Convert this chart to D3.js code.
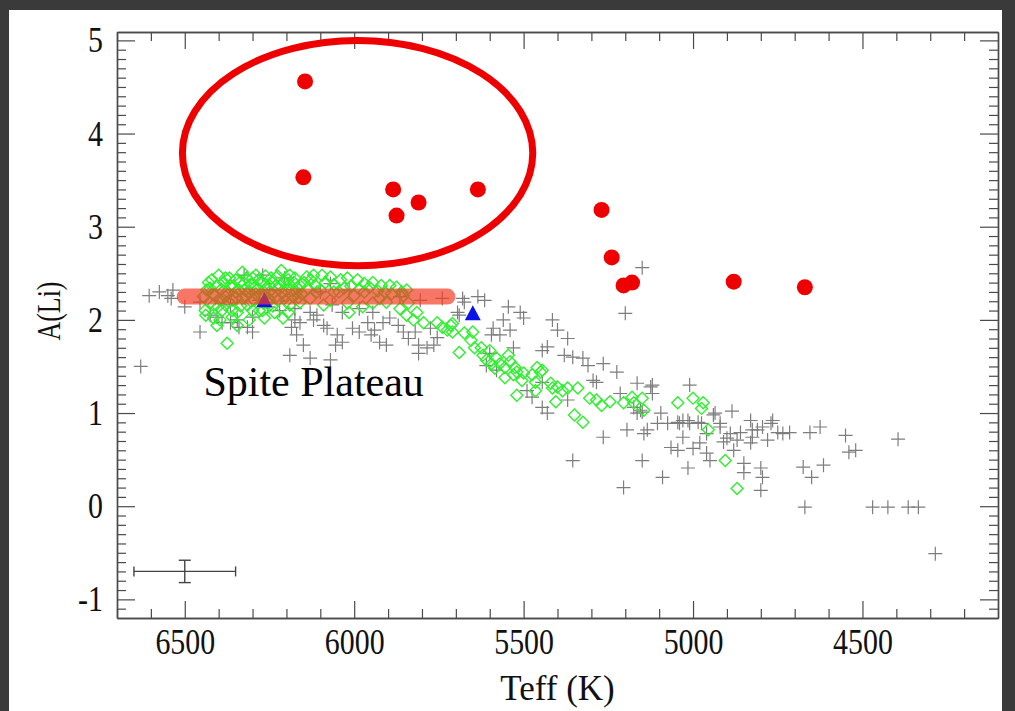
<!DOCTYPE html>
<html>
<head>
<meta charset="utf-8">
<script src="https://cdn.jsdelivr.net/npm/d3@7"></script>
<style>
  html, body { margin: 0; padding: 0; background: #3a3a3a; }
  svg { display: block; }
  text { font-family: "Liberation Serif", "Times New Roman", serif; }
</style>
</head>
<body>
<div id="chart"></div>
<script>
// giants / field stars (gray crosses): [Teff, A(Li)]
const crossStars = [
  [6630,1.50],[6605,2.26],[6575,2.30],[6550,2.26],[6540,2.23],[6535,2.32],[6500,2.14],[6455,1.87],
  [6270,2.48],[6300,1.87],[6190,1.62],[6185,1.92],[6175,2.00],[6405,2.03],[6390,1.97],[6365,1.97],
  [6345,2.00],[6340,1.92],[6315,1.92],[6425,2.05],[6300,2.03],[6255,2.14],[6160,1.97],[6120,2.00],
  [6170,1.84],[6090,1.94],[6080,1.91],[6050,1.84],[6035,1.76],[6055,1.73],[6150,1.73],[6130,1.59],
  [6070,1.57],[6005,1.91],[5985,1.87],[5960,1.97],[5940,1.89],[5915,1.97],[5895,2.02],[5905,1.73],
  [5925,1.76],[5950,1.84],[5870,1.94],[5855,1.87],[5840,1.80],[5820,1.87],[5810,1.73],[5810,1.64],
  [5765,1.73],[5785,1.70],[5755,1.81],[5775,1.91],[5740,2.23],[5680,2.23],[5695,2.08],[6065,2.16],
  [6035,2.08],[5985,2.12],[5945,2.08],[6175,2.12],[6130,2.08],[6110,2.05],[6325,2.48],[6205,2.45],
  [6070,2.39],[6250,2.32],[6100,2.30],[6015,2.32],[5865,2.25],[5805,2.21],[6455,2.19],[6365,2.16],
  [6220,2.10],[6280,2.21],[5690,2.05],[5675,2.19],[5635,2.25],[5615,2.21],[5545,2.14],[5510,2.08],
  [5500,2.02],[5560,2.00],[5590,1.91],[5540,1.89],[5570,1.84],[5415,2.00],[5400,1.89],[5370,1.80],
  [5430,1.71],[5445,1.67],[5530,1.70],[5595,1.84],[5600,1.64],[5580,1.46],[5200,2.07],[5150,2.56],
  [5380,1.62],[5355,1.60],[5325,1.59],[5310,1.51],[5265,1.53],[5225,1.44],[5285,1.33],[5295,1.35],
  [5165,1.32],[5125,1.28],[5010,1.30],[5445,1.33],[5430,1.00],[5445,1.06],[5490,1.24],[5475,1.17],
  [5215,1.21],[5195,0.82],[5265,0.74],[5145,0.78],[5370,1.14],[5155,1.03],[5355,0.49],[5150,0.49],
  [5205,0.20],[5610,1.51],[5095,1.00],[5075,0.89],[5065,0.63],[5045,0.60],[5030,0.92],[5010,0.89],
  [4985,0.90],[4940,0.98],[4920,0.89],[4885,1.02],[4860,0.79],[4830,0.92],[4825,0.74],[4810,0.82],
  [4770,0.89],[4750,0.79],[4735,0.78],[4715,0.79],[4655,0.79],[4625,0.85],[4550,0.76],[4540,0.58],
  [5090,0.31],[5015,0.41],[4950,0.49],[4960,0.57],[4850,0.46],[4850,0.36],[4800,0.41],[4795,0.31],
  [4800,0.17],[4675,0.42],[4650,0.31],[4615,0.44],[4880,0.60],[4910,0.69],[4870,0.71],[4980,0.68],
  [4830,0.68],[4780,0.71],[5045,0.90],[5030,0.74],[4395,0.72],[4285,-0.51],[4470,-0.01],[4425,-0.01],
  [4365,-0.01],[4335,-0.01],[4670,-0.01],[4520,0.60],[5120,1.30],[5135,0.82],[4765,0.92],[5000,0.62],
  [4900,0.73],[4935,1.00],[4975,0.89],[5015,0.92],[5040,0.89],[5105,0.89],[5165,1.00],[5175,1.06],
  [5150,1.01],[5120,1.21],[4825,0.82],[4890,0.78],[4795,0.85],[4920,0.85],[4960,0.78]
];

// dwarfs (green open diamonds): [Teff, A(Li)]
const diamondStars = [
  [6435,2.32],[6425,2.18],[6420,2.43],[6410,2.26],[6405,2.37],[6395,2.21],[6390,2.10],[6380,2.45],
  [6375,2.30],[6365,2.37],[6360,2.21],[6350,2.43],[6345,2.08],[6340,2.32],[6330,2.23],[6325,2.39],
  [6315,2.16],[6310,2.30],[6300,2.45],[6295,2.21],[6285,2.34],[6280,2.10],[6270,2.40],[6265,2.26],
  [6255,2.19],[6250,2.37],[6245,2.45],[6235,2.30],[6225,2.21],[6220,2.37],[6215,2.53],[6210,2.02],
  [6205,2.26],[6195,2.43],[6190,2.16],[6185,2.32],[6175,2.45],[6165,2.24],[6160,2.37],[6405,1.94],
  [6345,1.94],[6375,1.75],[6415,2.02],[6310,2.00],[6265,2.02],[6235,2.08],[6330,2.51],[6290,2.48],
  [6380,2.16],[6440,2.10],[6160,2.19],[6190,2.48],[6425,2.34],[6415,2.16],[6380,2.25],[6350,2.30],
  [6320,2.25],[6290,2.28],[6260,2.34],[6230,2.37],[6200,2.32],[6170,2.30],[6360,2.10],[6250,2.21],
  [6400,2.48],[6140,2.46],[6120,2.48],[6095,2.48],[6070,2.46],[6040,2.43],[6020,2.45],[5990,2.43],
  [5970,2.39],[5945,2.40],[5920,2.37],[5895,2.37],[5875,2.35],[5845,2.32],[5855,2.26],[5840,2.18],
  [5905,2.19],[5945,2.18],[6020,2.18],[6015,2.08],[5845,2.05],[5825,2.00],[5795,1.97],[5755,1.97],
  [5740,1.92],[5715,1.94],[5710,1.87],[5725,1.89],[5690,1.65],[5865,2.12],[5815,2.08],[5925,2.23],
  [5975,2.14],[6090,2.16],[6130,2.23],[6100,2.32],[6060,2.30],[6000,2.26],[6070,2.21],[6115,2.37],
  [6030,2.34],[5970,2.30],[5910,2.30],[5710,1.96],[5675,1.86],[5650,1.87],[5645,1.70],[5625,1.70],
  [5620,1.62],[5600,1.67],[5610,1.57],[5595,1.53],[5580,1.59],[5570,1.53],[5585,1.48],[5555,1.49],
  [5545,1.62],[5540,1.55],[5525,1.49],[5520,1.44],[5530,1.41],[5500,1.43],[5505,1.35],[5555,1.38],
  [5475,1.41],[5460,1.49],[5450,1.44],[5465,1.33],[5445,1.46],[5420,1.32],[5400,1.28],[5385,1.24],
  [5370,1.27],[5340,1.27],[5415,1.27],[5520,1.19],[5465,1.24],[5405,1.12],[5305,1.16],[5285,1.14],
  [5270,1.08],[5245,1.12],[5350,0.98],[5325,0.90],[5205,1.11],[5180,1.17],[5150,1.16],[5175,1.11],
  [5145,1.03],[5045,1.11],[5000,1.16],[4970,1.11],[4975,1.05],[4955,0.82],[4905,0.49],[4870,0.19],
  [5655,1.78],
  [6430,2.40],[6418,2.28],[6402,2.14],[6392,2.33],[6385,2.40],[6372,2.20],[6368,2.45],[6355,2.36],
  [6348,2.24],[6338,2.40],[6335,2.15],[6322,2.32],[6318,2.45],[6306,2.38],[6304,2.20],[6296,2.34],
  [6282,2.43],[6276,2.27],[6268,2.18],[6262,2.47],[6252,2.29],[6240,2.40],[6232,2.24],[6226,2.47],
  [6214,2.30],[6208,2.40],[6200,2.20],[6192,2.38],[6182,2.26],[6178,2.40],[6168,2.34],[6155,2.28],
  [6148,2.40],[6138,2.34],[6128,2.43],[6110,2.30],[6085,2.40],[6060,2.38],[6045,2.30],[6010,2.36],
  [5985,2.33],[5955,2.35],[5930,2.31],[5890,2.28],[5860,2.30],[6445,2.25],[6438,2.05],[6396,2.00],
  [6360,2.03],[6300,2.10],[6270,2.10],[6240,2.15],[6195,2.08]
];

// Li-rich stars (red filled circles)
const liRich = [
  [6145,4.56],[6150,3.53],[5885,3.40],[5875,3.12],[5810,3.26],[5635,3.40],
  [5270,3.18],[5240,2.67],[5205,2.37],[5180,2.40],[4880,2.41],[4670,2.35]
];

// blue triangles
const triangles = [[6265,2.20],[5650,2.06]];

// annotations
const plateauLine = [[6500,2.25],[5725,2.25]];
const plateauLabel = {teff: 6445, ali: 1.18, text: "Spite Plateau"};
const ringCenter = [5990, 3.79];
const ringHalf = [517, 1.21];   // half-width in K, half-height in dex
const errorBar = {teff: 6500, ali: -0.70, dT: 150, dA: 0.12};

const xMajor = [6500, 6000, 5500, 5000, 4500];
const yMajor = [-1, 0, 1, 2, 3, 4, 5];

const W = 1015, H = 711;
const box = {left: 117, right: 998, top: 32, bottom: 618};
const squeeze = 0.83;   // tick labels are narrow in the original figure

var svg = d3.select("#chart").append("svg")
    .attr("width", W)
    .attr("height", H);

// slide background
svg.append("rect")
    .attr("x", 9).attr("y", 10)
    .attr("width", 993).attr("height", H - 10)
    .attr("fill", "#ffffff");

var x = d3.scaleLinear().domain([6700, 4100]).range([box.left, box.right]);
var y = d3.scaleLinear().domain([-1.2, 5.09]).range([box.bottom, box.top]);

var xMinor = d3.range(4200, 6701, 100).filter(v => xMajor.indexOf(v) < 0);
var yMinor = d3.range(-11, 51, 1).map(v => v / 10).filter(v => v % 1 !== 0);

var axisColor = "#4a4a4a";

function styleAxis(g) {
    g.select(".domain").attr("stroke", axisColor).attr("stroke-width", 1.4);
    g.selectAll(".tick line").attr("stroke", axisColor).attr("stroke-width", 1.2);
    g.selectAll(".tick text")
        .attr("fill", "#111")
        .style("font-family", '"Liberation Serif", "Times New Roman", serif')
        .style("font-size", "36px");
}

//bottom axis with labels
svg.append("g")
    .attr("transform", "translate(0," + box.bottom + ")")
    .call(d3.axisBottom(x).tickValues(xMajor).tickSize(-17).tickSizeOuter(0)
        .tickFormat(d => String(d)))
    .call(styleAxis)
    .call(g => g.selectAll(".tick text")
        .attr("y", 10).attr("dy", "0.71em")
        .attr("transform", "scale(" + squeeze + ",1)"));
svg.append("g")
    .attr("transform", "translate(0," + box.bottom + ")")
    .call(d3.axisBottom(x).tickValues(xMinor).tickSize(-9).tickSizeOuter(0).tickFormat(""))
    .call(styleAxis);

//top axis, ticks only
svg.append("g")
    .attr("transform", "translate(0," + box.top + ")")
    .call(d3.axisTop(x).tickValues(xMajor).tickSize(-17).tickSizeOuter(0).tickFormat(""))
    .call(styleAxis);
svg.append("g")
    .attr("transform", "translate(0," + box.top + ")")
    .call(d3.axisTop(x).tickValues(xMinor).tickSize(-9).tickSizeOuter(0).tickFormat(""))
    .call(styleAxis);

//left axis with labels
svg.append("g")
    .attr("transform", "translate(" + box.left + ",0)")
    .call(d3.axisLeft(y).tickValues(yMajor).tickSize(-18).tickSizeOuter(0)
        .tickFormat(d => String(d)))
    .call(styleAxis)
    .call(g => g.selectAll(".tick text")
        .attr("x", -14 / squeeze)
        .attr("transform", "scale(" + squeeze + ",1)"));
svg.append("g")
    .attr("transform", "translate(" + box.left + ",0)")
    .call(d3.axisLeft(y).tickValues(yMinor).tickSize(-9).tickSizeOuter(0).tickFormat(""))
    .call(styleAxis);

//right axis, ticks only
svg.append("g")
    .attr("transform", "translate(" + box.right + ",0)")
    .call(d3.axisRight(y).tickValues(yMajor).tickSize(-18).tickSizeOuter(0).tickFormat(""))
    .call(styleAxis);
svg.append("g")
    .attr("transform", "translate(" + box.right + ",0)")
    .call(d3.axisRight(y).tickValues(yMinor).tickSize(-9).tickSizeOuter(0).tickFormat(""))
    .call(styleAxis);

//axis titles
svg.append("text")
    .attr("x", (box.left + box.right) / 2)
    .attr("y", 700)
    .attr("text-anchor", "middle")
    .style("font-size", "35px")
    .attr("fill", "#111")
    .text("Teff (K)");
svg.append("text")
    .attr("transform", "translate(60,311) rotate(-90) scale(0.76,1)")
    .attr("text-anchor", "middle")
    .style("font-size", "34px")
    .attr("fill", "#111")
    .text("A(Li)");

var plot = svg.append("g");

//gray crosses
var cs = 7;
plot.selectAll(".cross")
    .data(crossStars)
    .enter()
    .append("path")
    .attr("class", "cross")
    .attr("d", d => "M" + (x(d[0]) - cs) + "," + y(d[1]) + "h" + (2 * cs) +
        "M" + x(d[0]) + "," + (y(d[1]) - cs) + "v" + (2 * cs))
    .attr("stroke", "#7d7d7d")
    .attr("stroke-width", 1.2)
    .attr("fill", "none");

//green diamonds
var ds = 6;
plot.selectAll(".diamond")
    .data(diamondStars)
    .enter()
    .append("path")
    .attr("class", "diamond")
    .attr("d", d => "M" + x(d[0]) + "," + (y(d[1]) - ds) + "l" + ds + "," + ds +
        "l" + (-ds) + "," + ds + "l" + (-ds) + "," + (-ds) + "z")
    .attr("stroke", "#2ef02e")
    .attr("stroke-width", 1.4)
    .attr("fill", "none");

//blue triangles
plot.selectAll(".tri")
    .data(triangles)
    .enter()
    .append("path")
    .attr("class", "tri")
    .attr("d", d => "M" + x(d[0]) + "," + (y(d[1]) - 9) + "l8,15h-16z")
    .attr("fill", "#0a14e6");

//Spite plateau band
plot.append("path")
    .datum(plateauLine)
    .attr("d", d3.line().x(d => x(d[0])).y(d => y(d[1])))
    .attr("stroke", "rgb(245,60,35)")
    .attr("stroke-opacity", 0.7)
    .attr("stroke-width", 16)
    .attr("stroke-linecap", "round")
    .attr("fill", "none");

//red Li-rich stars
plot.selectAll(".rich")
    .data(liRich)
    .enter()
    .append("circle")
    .attr("class", "rich")
    .attr("cx", d => x(d[0]))
    .attr("cy", d => y(d[1]))
    .attr("r", 8)
    .attr("fill", "#ee0000");

//ring round the Li-rich dwarfs
plot.append("ellipse")
    .attr("cx", x(ringCenter[0]))
    .attr("cy", y(ringCenter[1]))
    .attr("rx", x(ringCenter[0] - ringHalf[0]) - x(ringCenter[0]))
    .attr("ry", y(ringCenter[1] - ringHalf[1]) - y(ringCenter[1]))
    .attr("fill", "none")
    .attr("stroke", "#ee0000")
    .attr("stroke-width", 7);

//typical error bar
var eb = plot.append("g")
    .attr("stroke", "#444")
    .attr("stroke-width", 1.4)
    .attr("fill", "none");
var ex0 = x(errorBar.teff + errorBar.dT), ex1 = x(errorBar.teff - errorBar.dT);
var ey0 = y(errorBar.ali + errorBar.dA), ey1 = y(errorBar.ali - errorBar.dA);
var ecx = x(errorBar.teff), ecy = y(errorBar.ali);
eb.append("path").attr("d", "M" + ex0 + "," + ecy + "H" + ex1);
eb.append("path").attr("d", "M" + ex0 + "," + (ecy - 5) + "V" + (ecy + 5));
eb.append("path").attr("d", "M" + ex1 + "," + (ecy - 5) + "V" + (ecy + 5));
eb.append("path").attr("d", "M" + ecx + "," + ey0 + "V" + ey1);
eb.append("path").attr("d", "M" + (ecx - 6) + "," + ey0 + "H" + (ecx + 6));
eb.append("path").attr("d", "M" + (ecx - 6) + "," + ey1 + "H" + (ecx + 6));

//plateau label
svg.append("text")
    .attr("x", x(plateauLabel.teff))
    .attr("y", y(plateauLabel.ali))
    .style("font-size", "42px")
    .attr("fill", "#000")
    .text(plateauLabel.text);
</script>
</body>
</html>
